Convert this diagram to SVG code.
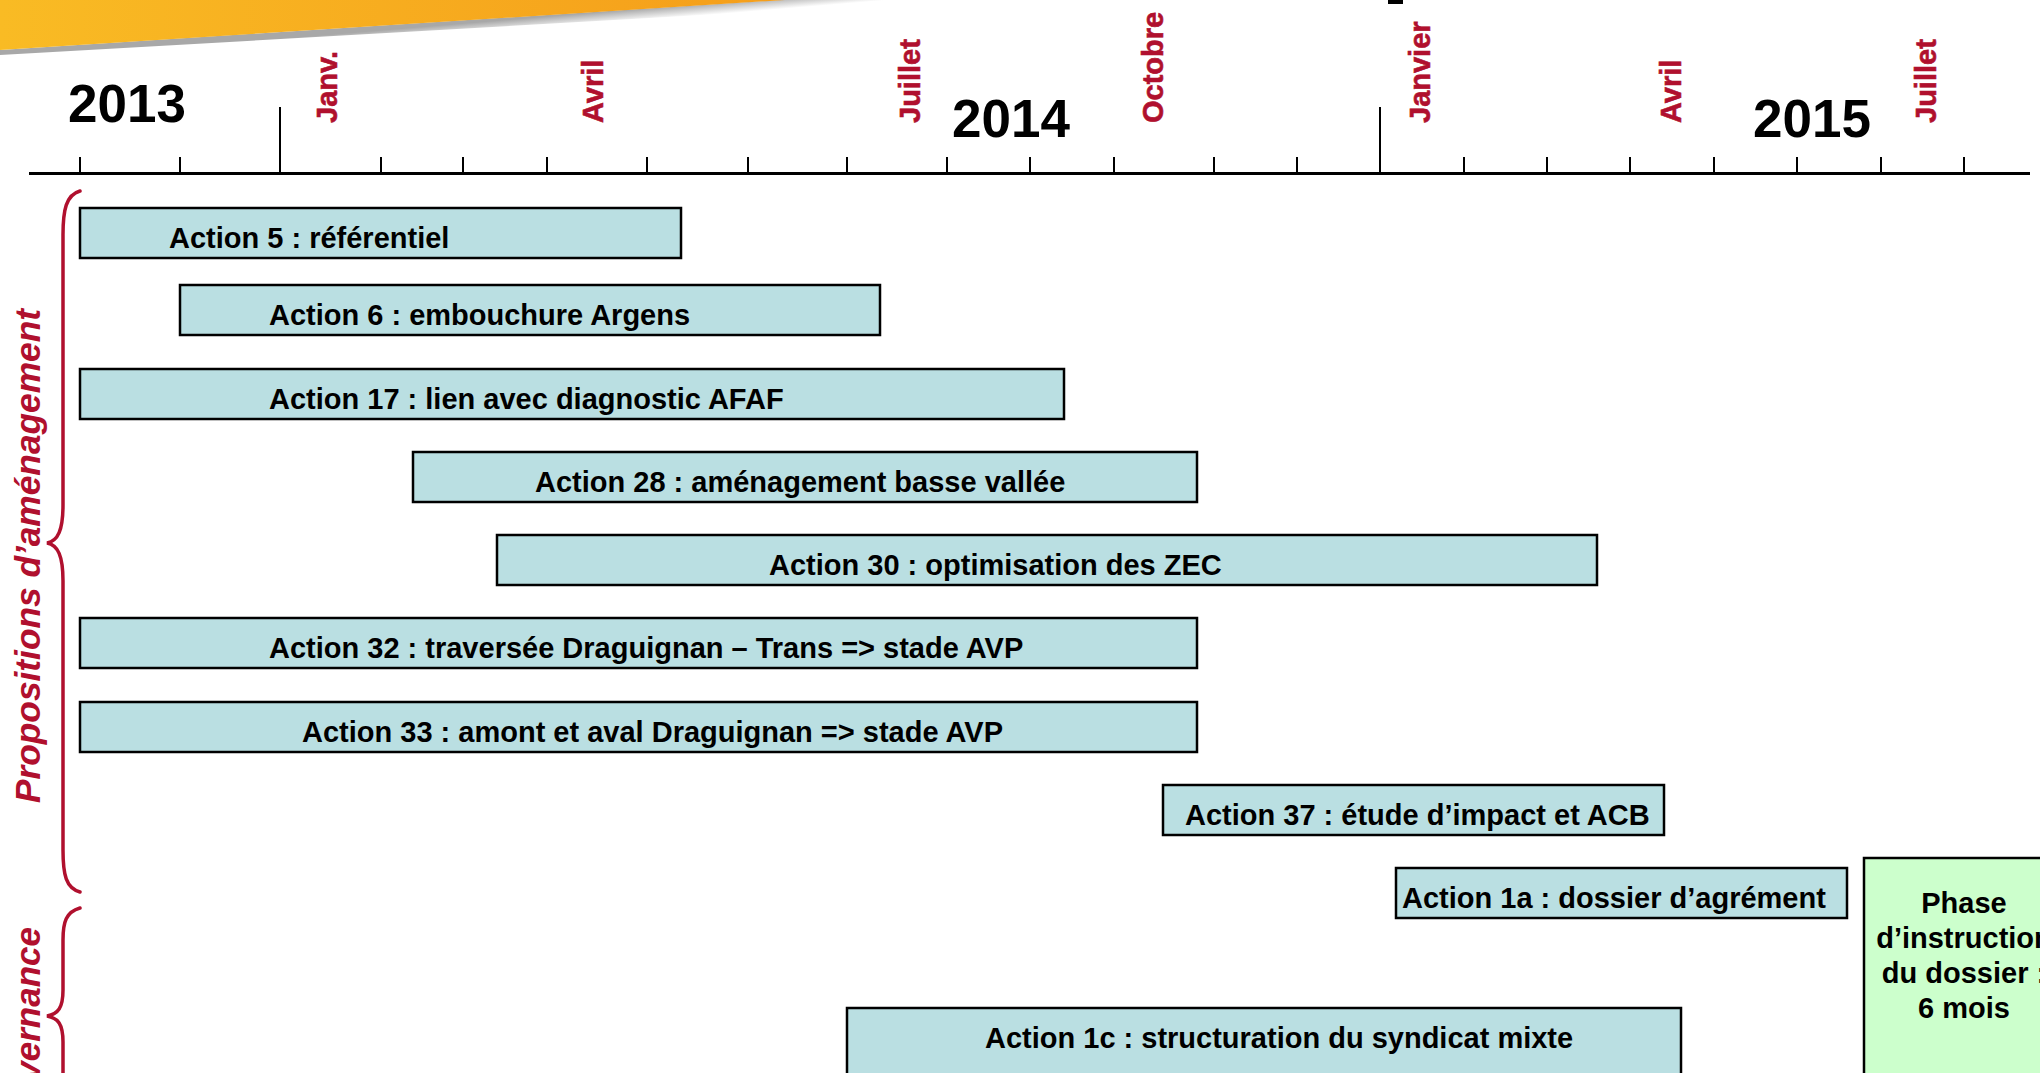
<svg xmlns="http://www.w3.org/2000/svg" width="2040" height="1073" viewBox="0 0 2040 1073">
<defs>
<linearGradient id="orange" x1="0" y1="0" x2="1" y2="0">
<stop offset="0" stop-color="#F9BB24"/>
<stop offset="1" stop-color="#F59E1A"/>
</linearGradient>
<linearGradient id="shadow" gradientUnits="userSpaceOnUse" x1="600" y1="12" x2="601" y2="24">
<stop offset="0" stop-color="#A8A8A8"/>
<stop offset="1" stop-color="#FFFFFF"/>
</linearGradient>
<style>
.bar{fill:#BADFE2;stroke:#000;stroke-width:2.5}
.green{fill:#CCFFCC;stroke:#000;stroke-width:2.5}
.t{font-family:"Liberation Sans",Arial,sans-serif;font-weight:bold;font-size:29px;fill:#000}
.month{font-family:"Liberation Sans",Arial,sans-serif;font-weight:bold;font-size:29px;fill:#B0102E;stroke:#B0102E;stroke-width:0.6}
.year{font-family:"Liberation Sans",Arial,sans-serif;font-weight:bold;font-size:53px;fill:#000}
.group{font-family:"Liberation Sans",Arial,sans-serif;font-weight:bold;font-style:italic;font-size:35px;fill:#B0102E}
.brace{fill:none;stroke:#B0102E;stroke-width:3.5;stroke-linecap:round}
.axis{stroke:#000;stroke-width:3;fill:none}
.tick{stroke:#000;stroke-width:2;fill:none}
</style>
</defs>
<rect width="2040" height="1073" fill="#FFFFFF"/>
<g id="banner">
<polygon points="780,0 965,0 0,55 0,50" fill="url(#shadow)"/>
<polygon points="0,0 785,0 0,50" fill="url(#orange)"/>
<rect x="1388" y="0" width="15" height="4" fill="#000"/>
</g>
<g id="timeline">
<line class="axis" x1="29" y1="173.5" x2="2030" y2="173.5"/>
<path class="tick" d="M80 157V174M180 157V174M280 107V174M381 157V174M463 157V174M547 157V174M647 157V174M748 157V174M847 157V174M947 157V174M1030 157V174M1114 157V174M1214 157V174M1297 157V174M1380 107V174M1464 157V174M1547 157V174M1630 157V174M1714 157V174M1797 157V174M1881 157V174M1964 157V174"/>
<text class="year" x="68" y="122">2013</text>
<text class="year" x="952" y="137">2014</text>
<text class="year" x="1753" y="137">2015</text>
<text class="month" transform="translate(337,123) rotate(-90)">Janv.</text>
<text class="month" transform="translate(603,123) rotate(-90)">Avril</text>
<text class="month" transform="translate(920,123) rotate(-90)">Juillet</text>
<text class="month" transform="translate(1163,123) rotate(-90)">Octobre</text>
<text class="month" transform="translate(1430,123) rotate(-90)">Janvier</text>
<text class="month" transform="translate(1681,123) rotate(-90)">Avril</text>
<text class="month" transform="translate(1936,123) rotate(-90)">Juillet</text>
</g>
<g id="groups">
<path class="brace" d="M80 191C66 195 63 210 63 235L63 505C63 530 58 541 47 543C58 545 63 556 63 581L63 850C63 875 66 888 80 892"/>
<path class="brace" d="M80 908C66 912 63 922 63 940L63 990C63 1008 58 1014 47 1016C58 1018 63 1024 63 1042L63 1090"/>
<text class="group" transform="translate(40,803) rotate(-90)" textLength="494" lengthAdjust="spacingAndGlyphs">Propositions d’aménagement</text>
<text class="group" text-anchor="end" transform="translate(40,927) rotate(-90)">Gouvernance</text>
</g>
<g id="connectors"></g>
<g id="action5"><rect class="bar" x="80" y="208" width="601" height="50"/><text class="t" x="169" y="248">Action 5 : référentiel</text></g>
<g id="action6"><rect class="bar" x="180" y="285" width="700" height="50"/><text class="t" x="269" y="325">Action 6 : embouchure Argens</text></g>
<g id="action17"><rect class="bar" x="80" y="369" width="984" height="50"/><text class="t" x="269" y="409">Action 17 : lien avec diagnostic AFAF</text></g>
<g id="action28"><rect class="bar" x="413" y="452" width="784" height="50"/><text class="t" x="535" y="492">Action 28 : aménagement basse vallée</text></g>
<g id="action30"><rect class="bar" x="497" y="535" width="1100" height="50"/><text class="t" x="769" y="575">Action 30 : optimisation des ZEC</text></g>
<g id="action32"><rect class="bar" x="80" y="618" width="1117" height="50"/><text class="t" x="269" y="658">Action 32 : traversée Draguignan – Trans =&gt; stade AVP</text></g>
<g id="action33"><rect class="bar" x="80" y="702" width="1117" height="50"/><text class="t" x="302" y="742">Action 33 : amont et aval Draguignan =&gt; stade AVP</text></g>
<g id="action37"><rect class="bar" x="1163" y="785" width="501" height="50"/><text class="t" x="1185" y="825">Action 37 : étude d’impact et ACB</text></g>
<g id="action1a"><rect class="bar" x="1396" y="868" width="451" height="50"/><text class="t" x="1402" y="908">Action 1a : dossier d’agrément</text></g>
<g id="action1c"><rect class="bar" x="847" y="1008" width="834" height="100"/><text class="t" x="985" y="1048">Action 1c : structuration du syndicat mixte</text></g>
<g id="phase"><rect class="green" x="1864" y="858" width="200" height="250"/>
<text class="t" text-anchor="middle"><tspan x="1964" y="913">Phase</tspan><tspan x="1964" y="948">d’instruction</tspan><tspan x="1964" y="983">du dossier :</tspan><tspan x="1964" y="1018">6 mois</tspan></text></g>
</svg>
